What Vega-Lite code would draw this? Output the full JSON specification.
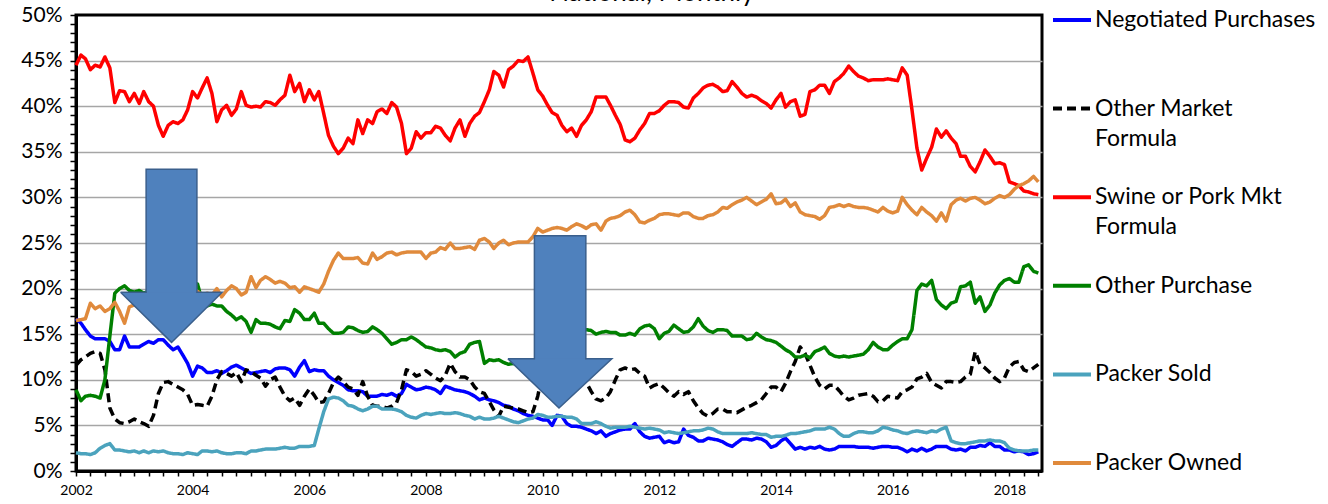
{
"$schema": "https://vega.github.io/schema/vega-lite/v6.json",
"width": 966, "height": 456,
"autosize": {"type": "none"},
"padding": {"left": 76, "top": 15, "right": 286, "bottom": 33},
"background": "white",
"config": {"font": "Lato", "view": {"stroke": "black", "strokeWidth": 3}},
"title": {"text": "National, Monthly", "fontSize": 26, "fontWeight": "normal", "font": "Lato", "color": "black", "anchor": "middle", "frame": "group", "dx": 93, "dy": 55, "offset": 4, "baseline": "alphabetic"},
"datasets": {
"m": [
{"d":"2002-01","n":16.7,"o":11.6,"s":44.5,"p":8.9,"ps":2.0,"po":16.5},
{"d":"2002-02","n":16.2,"o":12.2,"s":45.6,"p":7.7,"ps":1.9,"po":16.6},
{"d":"2002-03","n":15.5,"o":12.5,"s":45.2,"p":8.2,"ps":1.9,"po":16.7},
{"d":"2002-04","n":14.8,"o":12.9,"s":44.0,"p":8.3,"ps":1.8,"po":18.4},
{"d":"2002-05","n":14.5,"o":13.1,"s":44.5,"p":8.2,"ps":2.0,"po":17.8},
{"d":"2002-06","n":14.5,"o":12.9,"s":44.3,"p":8.0,"ps":2.5,"po":18.1},
{"d":"2002-07","n":14.5,"o":11.1,"s":45.4,"p":10.0,"ps":2.8,"po":17.5},
{"d":"2002-08","n":14.2,"o":6.9,"s":44.2,"p":14.8,"ps":3.0,"po":17.8},
{"d":"2002-09","n":13.3,"o":5.7,"s":40.4,"p":19.5,"ps":2.3,"po":18.5},
{"d":"2002-10","n":13.3,"o":5.3,"s":41.7,"p":20.0,"ps":2.3,"po":17.5},
{"d":"2002-11","n":14.8,"o":5.2,"s":41.6,"p":20.3,"ps":2.2,"po":16.2},
{"d":"2002-12","n":13.6,"o":5.4,"s":40.5,"p":19.8,"ps":2.1,"po":18.0},
{"d":"2003-01","n":13.6,"o":5.7,"s":41.4,"p":19.6,"ps":2.2,"po":18.2},
{"d":"2003-02","n":13.6,"o":5.4,"s":40.3,"p":19.8,"ps":2.0,"po":18.0},
{"d":"2003-03","n":13.9,"o":5.2,"s":41.6,"p":19.5,"ps":2.2,"po":18.6},
{"d":"2003-04","n":14.2,"o":4.9,"s":40.5,"p":19.7,"ps":2.0,"po":18.8},
{"d":"2003-05","n":14.0,"o":6.1,"s":40.0,"p":20.0,"ps":2.2,"po":19.2},
{"d":"2003-06","n":14.4,"o":8.5,"s":37.9,"p":19.6,"ps":2.1,"po":19.0},
{"d":"2003-07","n":14.4,"o":9.7,"s":36.7,"p":19.9,"ps":2.2,"po":19.4},
{"d":"2003-08","n":13.8,"o":9.8,"s":37.9,"p":20.2,"ps":2.0,"po":19.3},
{"d":"2003-09","n":13.3,"o":9.5,"s":38.3,"p":20.0,"ps":1.9,"po":19.6},
{"d":"2003-10","n":13.6,"o":9.2,"s":38.1,"p":19.8,"ps":1.9,"po":19.2},
{"d":"2003-11","n":12.7,"o":8.9,"s":38.5,"p":20.1,"ps":1.8,"po":19.5},
{"d":"2003-12","n":11.8,"o":8.4,"s":39.6,"p":20.4,"ps":2.0,"po":19.8},
{"d":"2004-01","n":10.4,"o":7.2,"s":41.6,"p":20.6,"ps":1.9,"po":19.4},
{"d":"2004-02","n":11.5,"o":7.3,"s":40.9,"p":20.5,"ps":1.8,"po":19.7},
{"d":"2004-03","n":11.3,"o":7.2,"s":42.0,"p":18.6,"ps":2.2,"po":19.3},
{"d":"2004-04","n":10.8,"o":7.1,"s":43.1,"p":18.1,"ps":2.2,"po":19.5},
{"d":"2004-05","n":10.8,"o":8.2,"s":41.4,"p":18.3,"ps":2.1,"po":19.3},
{"d":"2004-06","n":11.0,"o":10.0,"s":38.3,"p":18.1,"ps":2.2,"po":20.0},
{"d":"2004-07","n":10.7,"o":10.9,"s":39.6,"p":18.1,"ps":2.0,"po":19.1},
{"d":"2004-08","n":11.0,"o":10.7,"s":40.1,"p":17.5,"ps":1.9,"po":19.8},
{"d":"2004-09","n":11.4,"o":10.4,"s":39.0,"p":17.1,"ps":1.9,"po":20.3},
{"d":"2004-10","n":11.6,"o":10.8,"s":39.7,"p":16.6,"ps":2.0,"po":20.0},
{"d":"2004-11","n":11.3,"o":9.8,"s":41.6,"p":16.9,"ps":2.0,"po":19.3},
{"d":"2004-12","n":11.0,"o":11.1,"s":40.1,"p":16.4,"ps":1.9,"po":19.6},
{"d":"2005-01","n":10.7,"o":10.9,"s":39.9,"p":15.2,"ps":2.2,"po":21.3},
{"d":"2005-02","n":10.8,"o":10.5,"s":40.0,"p":16.6,"ps":2.2,"po":20.1},
{"d":"2005-03","n":10.9,"o":10.2,"s":39.9,"p":16.2,"ps":2.3,"po":20.9},
{"d":"2005-04","n":11.0,"o":9.3,"s":40.5,"p":16.2,"ps":2.4,"po":21.3},
{"d":"2005-05","n":10.8,"o":10.0,"s":40.4,"p":16.1,"ps":2.4,"po":21.0},
{"d":"2005-06","n":11.2,"o":10.3,"s":40.1,"p":15.8,"ps":2.4,"po":20.6},
{"d":"2005-07","n":11.3,"o":9.2,"s":40.7,"p":15.6,"ps":2.5,"po":20.8},
{"d":"2005-08","n":11.3,"o":8.2,"s":41.2,"p":16.5,"ps":2.6,"po":20.6},
{"d":"2005-09","n":11.1,"o":7.7,"s":43.4,"p":16.4,"ps":2.5,"po":20.1},
{"d":"2005-10","n":10.4,"o":8.0,"s":41.6,"p":17.7,"ps":2.5,"po":20.2},
{"d":"2005-11","n":11.4,"o":7.2,"s":42.5,"p":17.3,"ps":2.7,"po":19.6},
{"d":"2005-12","n":12.1,"o":8.2,"s":40.5,"p":16.6,"ps":2.7,"po":20.2},
{"d":"2006-01","n":10.9,"o":9.0,"s":41.8,"p":16.6,"ps":2.7,"po":20.0},
{"d":"2006-02","n":11.1,"o":8.3,"s":40.7,"p":17.3,"ps":2.8,"po":19.8},
{"d":"2006-03","n":11.0,"o":7.5,"s":41.6,"p":16.2,"ps":4.6,"po":19.6},
{"d":"2006-04","n":11.0,"o":7.6,"s":39.2,"p":16.2,"ps":6.5,"po":20.5},
{"d":"2006-05","n":10.4,"o":8.5,"s":36.8,"p":15.6,"ps":7.9,"po":21.9},
{"d":"2006-06","n":10.0,"o":9.7,"s":35.6,"p":15.1,"ps":8.1,"po":23.1},
{"d":"2006-07","n":9.7,"o":10.3,"s":34.8,"p":15.1,"ps":8.0,"po":23.9},
{"d":"2006-08","n":9.4,"o":9.8,"s":35.4,"p":15.2,"ps":7.7,"po":23.3},
{"d":"2006-09","n":8.9,"o":9.2,"s":36.5,"p":15.8,"ps":7.2,"po":23.3},
{"d":"2006-10","n":8.8,"o":9.0,"s":35.9,"p":15.7,"ps":7.1,"po":23.3},
{"d":"2006-11","n":8.8,"o":8.3,"s":38.5,"p":15.4,"ps":6.8,"po":23.4},
{"d":"2006-12","n":8.7,"o":9.8,"s":37.0,"p":15.2,"ps":6.6,"po":22.8},
{"d":"2007-01","n":8.2,"o":8.2,"s":38.5,"p":15.3,"ps":6.8,"po":22.7},
{"d":"2007-02","n":8.2,"o":7.2,"s":38.1,"p":15.8,"ps":7.1,"po":23.9},
{"d":"2007-03","n":8.2,"o":7.1,"s":39.4,"p":15.5,"ps":7.1,"po":23.2},
{"d":"2007-04","n":8.4,"o":7.1,"s":39.7,"p":15.1,"ps":6.8,"po":23.5},
{"d":"2007-05","n":8.3,"o":6.9,"s":39.2,"p":14.5,"ps":6.8,"po":23.9},
{"d":"2007-06","n":8.5,"o":7.1,"s":40.4,"p":13.9,"ps":6.8,"po":24.0},
{"d":"2007-07","n":8.2,"o":7.5,"s":39.9,"p":14.1,"ps":6.7,"po":23.7},
{"d":"2007-08","n":8.5,"o":8.9,"s":38.1,"p":14.4,"ps":6.5,"po":23.9},
{"d":"2007-09","n":9.5,"o":11.1,"s":34.8,"p":14.4,"ps":6.1,"po":24.0},
{"d":"2007-10","n":9.2,"o":10.9,"s":35.4,"p":14.7,"ps":5.9,"po":24.0},
{"d":"2007-11","n":8.9,"o":10.4,"s":37.2,"p":14.4,"ps":5.8,"po":24.0},
{"d":"2007-12","n":9.0,"o":10.6,"s":36.5,"p":14.0,"ps":6.1,"po":24.0},
{"d":"2008-01","n":9.2,"o":11.0,"s":37.1,"p":13.6,"ps":6.3,"po":23.3},
{"d":"2008-02","n":9.1,"o":10.6,"s":37.1,"p":13.5,"ps":6.2,"po":23.9},
{"d":"2008-03","n":8.9,"o":10.2,"s":37.8,"p":13.3,"ps":6.3,"po":24.0},
{"d":"2008-04","n":8.5,"o":9.9,"s":37.6,"p":13.2,"ps":6.4,"po":24.5},
{"d":"2008-05","n":9.3,"o":10.5,"s":36.8,"p":13.3,"ps":6.3,"po":24.3},
{"d":"2008-06","n":9.1,"o":11.8,"s":36.2,"p":13.1,"ps":6.3,"po":25.0},
{"d":"2008-07","n":8.9,"o":10.9,"s":37.6,"p":12.5,"ps":6.4,"po":24.4},
{"d":"2008-08","n":8.8,"o":10.3,"s":38.5,"p":12.9,"ps":6.3,"po":24.4},
{"d":"2008-09","n":8.7,"o":10.3,"s":36.7,"p":13.1,"ps":6.1,"po":24.5},
{"d":"2008-10","n":8.5,"o":10.0,"s":38.1,"p":13.9,"ps":6.0,"po":24.6},
{"d":"2008-11","n":8.2,"o":9.2,"s":38.9,"p":14.1,"ps":5.7,"po":24.3},
{"d":"2008-12","n":7.8,"o":8.7,"s":39.3,"p":14.2,"ps":5.9,"po":25.3},
{"d":"2009-01","n":8.0,"o":8.5,"s":40.5,"p":11.8,"ps":5.7,"po":25.5},
{"d":"2009-02","n":7.8,"o":7.6,"s":41.8,"p":12.2,"ps":5.7,"po":25.1},
{"d":"2009-03","n":7.7,"o":6.7,"s":43.8,"p":12.1,"ps":5.8,"po":24.4},
{"d":"2009-04","n":7.5,"o":6.0,"s":43.4,"p":12.2,"ps":6.0,"po":25.0},
{"d":"2009-05","n":7.2,"o":7.1,"s":42.1,"p":11.9,"ps":5.8,"po":25.3},
{"d":"2009-06","n":7.1,"o":7.0,"s":44.0,"p":11.7,"ps":5.6,"po":24.8},
{"d":"2009-07","n":6.8,"o":6.9,"s":44.4,"p":11.8,"ps":5.4,"po":25.0},
{"d":"2009-08","n":6.6,"o":6.8,"s":45.0,"p":11.6,"ps":5.3,"po":25.1},
{"d":"2009-09","n":6.3,"o":6.6,"s":44.9,"p":11.7,"ps":5.5,"po":25.1},
{"d":"2009-10","n":6.1,"o":6.4,"s":45.4,"p":11.5,"ps":5.7,"po":25.1},
{"d":"2009-11","n":6.0,"o":6.5,"s":43.6,"p":11.8,"ps":5.8,"po":25.7},
{"d":"2009-12","n":5.8,"o":8.2,"s":41.8,"p":12.5,"ps":6.2,"po":26.6},
{"d":"2010-01","n":5.6,"o":10.8,"s":41.1,"p":13.5,"ps":6.1,"po":26.2},
{"d":"2010-02","n":5.6,"o":11.5,"s":40.1,"p":14.5,"ps":5.9,"po":26.4},
{"d":"2010-03","n":5.0,"o":11.8,"s":39.3,"p":15.0,"ps":5.9,"po":26.6},
{"d":"2010-04","n":6.1,"o":11.2,"s":39.0,"p":15.2,"ps":6.0,"po":26.7},
{"d":"2010-05","n":6.0,"o":11.5,"s":37.9,"p":15.3,"ps":6.0,"po":26.6},
{"d":"2010-06","n":5.2,"o":11.8,"s":37.2,"p":15.2,"ps":5.9,"po":26.4},
{"d":"2010-07","n":4.9,"o":11.0,"s":37.6,"p":15.4,"ps":5.9,"po":26.8},
{"d":"2010-08","n":4.9,"o":11.4,"s":36.7,"p":15.3,"ps":5.7,"po":27.1},
{"d":"2010-09","n":4.8,"o":10.8,"s":37.9,"p":15.4,"ps":5.2,"po":26.9},
{"d":"2010-10","n":4.6,"o":9.7,"s":38.5,"p":15.5,"ps":5.2,"po":26.6},
{"d":"2010-11","n":4.4,"o":8.7,"s":39.4,"p":15.4,"ps":5.2,"po":27.0},
{"d":"2010-12","n":4.1,"o":7.9,"s":41.0,"p":15.0,"ps":5.4,"po":27.1},
{"d":"2011-01","n":4.4,"o":7.7,"s":41.0,"p":15.2,"ps":5.2,"po":26.4},
{"d":"2011-02","n":3.8,"o":8.0,"s":41.0,"p":15.3,"ps":4.9,"po":27.4},
{"d":"2011-03","n":4.1,"o":8.7,"s":40.1,"p":15.2,"ps":4.7,"po":27.7},
{"d":"2011-04","n":4.3,"o":10.0,"s":39.0,"p":15.2,"ps":4.8,"po":27.8},
{"d":"2011-05","n":4.5,"o":11.1,"s":38.0,"p":14.9,"ps":4.8,"po":28.0},
{"d":"2011-06","n":4.6,"o":11.3,"s":36.3,"p":14.9,"ps":4.8,"po":28.4},
{"d":"2011-07","n":4.6,"o":11.1,"s":36.1,"p":15.1,"ps":4.9,"po":28.6},
{"d":"2011-08","n":5.2,"o":11.2,"s":36.5,"p":14.9,"ps":4.8,"po":28.1},
{"d":"2011-09","n":4.3,"o":10.7,"s":37.4,"p":15.6,"ps":4.7,"po":27.3},
{"d":"2011-10","n":3.8,"o":10.4,"s":38.1,"p":15.9,"ps":4.6,"po":27.2},
{"d":"2011-11","n":3.6,"o":9.1,"s":39.2,"p":16.0,"ps":4.7,"po":27.5},
{"d":"2011-12","n":3.7,"o":9.4,"s":39.2,"p":15.6,"ps":4.6,"po":27.7},
{"d":"2012-01","n":3.8,"o":9.6,"s":39.5,"p":14.5,"ps":4.5,"po":28.1},
{"d":"2012-02","n":3.1,"o":9.1,"s":40.1,"p":15.1,"ps":4.2,"po":28.2},
{"d":"2012-03","n":3.3,"o":8.6,"s":40.5,"p":15.3,"ps":4.3,"po":28.2},
{"d":"2012-04","n":3.1,"o":8.2,"s":40.5,"p":16.0,"ps":4.2,"po":28.1},
{"d":"2012-05","n":3.2,"o":8.7,"s":40.4,"p":15.6,"ps":4.1,"po":28.0},
{"d":"2012-06","n":4.6,"o":8.4,"s":39.9,"p":15.2,"ps":4.2,"po":28.3},
{"d":"2012-07","n":3.9,"o":8.7,"s":39.8,"p":15.3,"ps":4.3,"po":28.3},
{"d":"2012-08","n":3.7,"o":7.7,"s":40.9,"p":15.8,"ps":4.4,"po":27.9},
{"d":"2012-09","n":3.3,"o":6.9,"s":41.4,"p":16.7,"ps":4.4,"po":27.7},
{"d":"2012-10","n":3.3,"o":6.3,"s":42.0,"p":15.9,"ps":4.5,"po":27.7},
{"d":"2012-11","n":3.6,"o":6.0,"s":42.3,"p":15.4,"ps":4.7,"po":28.0},
{"d":"2012-12","n":3.5,"o":6.3,"s":42.4,"p":15.2,"ps":4.6,"po":28.1},
{"d":"2013-01","n":3.4,"o":6.8,"s":42.1,"p":15.5,"ps":4.3,"po":28.4},
{"d":"2013-02","n":3.2,"o":6.8,"s":41.6,"p":15.5,"ps":4.1,"po":28.9},
{"d":"2013-03","n":2.9,"o":6.5,"s":41.7,"p":15.4,"ps":4.1,"po":28.8},
{"d":"2013-04","n":2.7,"o":6.5,"s":42.7,"p":14.8,"ps":4.1,"po":29.2},
{"d":"2013-05","n":3.1,"o":6.4,"s":42.1,"p":14.8,"ps":4.1,"po":29.5},
{"d":"2013-06","n":3.5,"o":6.7,"s":41.4,"p":14.8,"ps":4.1,"po":29.7},
{"d":"2013-07","n":3.5,"o":7.0,"s":41.0,"p":14.4,"ps":4.1,"po":30.0},
{"d":"2013-08","n":3.4,"o":7.2,"s":41.2,"p":14.5,"ps":4.2,"po":29.6},
{"d":"2013-09","n":3.6,"o":7.5,"s":41.0,"p":15.1,"ps":4.1,"po":29.2},
{"d":"2013-10","n":3.5,"o":7.8,"s":40.6,"p":14.7,"ps":4.0,"po":29.5},
{"d":"2013-11","n":3.2,"o":8.5,"s":40.3,"p":14.4,"ps":4.0,"po":29.8},
{"d":"2013-12","n":2.6,"o":9.2,"s":39.8,"p":14.3,"ps":3.7,"po":30.4},
{"d":"2014-01","n":2.8,"o":9.2,"s":40.7,"p":14.1,"ps":3.8,"po":29.3},
{"d":"2014-02","n":3.3,"o":8.7,"s":41.4,"p":13.7,"ps":3.8,"po":29.4},
{"d":"2014-03","n":3.6,"o":9.6,"s":39.9,"p":13.3,"ps":3.9,"po":29.8},
{"d":"2014-04","n":3.0,"o":10.9,"s":40.5,"p":13.0,"ps":4.1,"po":29.0},
{"d":"2014-05","n":2.4,"o":12.0,"s":40.7,"p":12.5,"ps":4.1,"po":29.4},
{"d":"2014-06","n":2.6,"o":13.6,"s":38.9,"p":12.5,"ps":4.2,"po":28.4},
{"d":"2014-07","n":2.4,"o":12.9,"s":39.1,"p":12.7,"ps":4.3,"po":28.1},
{"d":"2014-08","n":2.6,"o":11.6,"s":41.6,"p":12.4,"ps":4.4,"po":28.0},
{"d":"2014-09","n":2.5,"o":10.3,"s":41.8,"p":13.1,"ps":4.6,"po":27.9},
{"d":"2014-10","n":2.7,"o":9.4,"s":42.3,"p":13.3,"ps":4.6,"po":27.6},
{"d":"2014-11","n":2.4,"o":9.0,"s":42.3,"p":13.6,"ps":4.6,"po":28.0},
{"d":"2014-12","n":2.3,"o":9.4,"s":41.4,"p":12.9,"ps":4.8,"po":28.9},
{"d":"2015-01","n":2.4,"o":9.4,"s":42.7,"p":12.6,"ps":4.6,"po":29.0},
{"d":"2015-02","n":2.7,"o":8.8,"s":43.1,"p":12.5,"ps":4.1,"po":29.2},
{"d":"2015-03","n":2.7,"o":8.2,"s":43.6,"p":12.6,"ps":3.8,"po":29.0},
{"d":"2015-04","n":2.7,"o":7.8,"s":44.4,"p":12.5,"ps":3.8,"po":29.2},
{"d":"2015-05","n":2.7,"o":8.0,"s":43.8,"p":12.6,"ps":4.1,"po":29.0},
{"d":"2015-06","n":2.6,"o":8.3,"s":43.3,"p":12.7,"ps":4.3,"po":28.9},
{"d":"2015-07","n":2.6,"o":8.4,"s":43.1,"p":12.8,"ps":4.3,"po":28.9},
{"d":"2015-08","n":2.6,"o":8.5,"s":42.8,"p":13.3,"ps":4.2,"po":28.8},
{"d":"2015-09","n":2.5,"o":8.2,"s":42.9,"p":14.1,"ps":4.2,"po":28.6},
{"d":"2015-10","n":2.6,"o":7.6,"s":42.9,"p":13.6,"ps":4.4,"po":28.4},
{"d":"2015-11","n":2.7,"o":7.7,"s":42.9,"p":13.3,"ps":4.8,"po":28.9},
{"d":"2015-12","n":2.7,"o":8.2,"s":43.0,"p":13.3,"ps":4.7,"po":28.5},
{"d":"2016-01","n":2.6,"o":8.1,"s":42.9,"p":13.8,"ps":4.5,"po":28.3},
{"d":"2016-02","n":2.6,"o":8.0,"s":42.8,"p":14.2,"ps":4.4,"po":28.5},
{"d":"2016-03","n":2.4,"o":8.7,"s":44.2,"p":14.5,"ps":4.2,"po":30.0},
{"d":"2016-04","n":2.1,"o":8.9,"s":43.4,"p":14.5,"ps":4.1,"po":29.2},
{"d":"2016-05","n":2.4,"o":9.2,"s":39.6,"p":15.5,"ps":4.3,"po":28.6},
{"d":"2016-06","n":2.2,"o":10.1,"s":35.4,"p":19.8,"ps":4.4,"po":28.1},
{"d":"2016-07","n":2.5,"o":10.3,"s":33.0,"p":20.5,"ps":4.3,"po":28.9},
{"d":"2016-08","n":2.2,"o":10.7,"s":34.3,"p":20.3,"ps":4.2,"po":28.4},
{"d":"2016-09","n":2.4,"o":9.7,"s":35.5,"p":20.9,"ps":4.4,"po":28.0},
{"d":"2016-10","n":2.7,"o":9.4,"s":37.5,"p":18.8,"ps":4.3,"po":27.4},
{"d":"2016-11","n":2.7,"o":9.1,"s":36.6,"p":18.2,"ps":4.6,"po":28.3},
{"d":"2016-12","n":2.7,"o":9.8,"s":37.3,"p":17.8,"ps":4.8,"po":27.4},
{"d":"2017-01","n":2.4,"o":9.8,"s":36.5,"p":18.4,"ps":3.3,"po":29.2},
{"d":"2017-02","n":2.3,"o":9.7,"s":35.9,"p":18.6,"ps":3.1,"po":29.7},
{"d":"2017-03","n":2.4,"o":9.8,"s":34.5,"p":20.2,"ps":3.0,"po":29.9},
{"d":"2017-04","n":2.2,"o":10.3,"s":34.5,"p":20.3,"ps":3.0,"po":29.6},
{"d":"2017-05","n":2.6,"o":10.6,"s":33.4,"p":20.7,"ps":3.1,"po":29.9},
{"d":"2017-06","n":2.6,"o":13.1,"s":32.8,"p":18.4,"ps":3.2,"po":30.0},
{"d":"2017-07","n":2.8,"o":11.7,"s":33.9,"p":19.1,"ps":3.3,"po":29.7},
{"d":"2017-08","n":2.7,"o":11.3,"s":35.2,"p":17.5,"ps":3.3,"po":29.3},
{"d":"2017-09","n":3.1,"o":10.8,"s":34.5,"p":18.2,"ps":3.4,"po":29.5},
{"d":"2017-10","n":2.7,"o":10.2,"s":33.7,"p":19.5,"ps":3.3,"po":29.9},
{"d":"2017-11","n":2.7,"o":9.8,"s":33.8,"p":20.4,"ps":3.3,"po":30.2},
{"d":"2017-12","n":2.3,"o":10.2,"s":33.6,"p":20.9,"ps":3.1,"po":30.0},
{"d":"2018-01","n":2.3,"o":11.4,"s":31.7,"p":21.1,"ps":2.5,"po":30.3},
{"d":"2018-02","n":2.1,"o":11.9,"s":31.5,"p":20.7,"ps":2.3,"po":30.9},
{"d":"2018-03","n":2.2,"o":12.0,"s":31.3,"p":20.7,"ps":2.2,"po":31.3},
{"d":"2018-04","n":2.1,"o":11.1,"s":30.7,"p":22.4,"ps":2.2,"po":31.5},
{"d":"2018-05","n":1.8,"o":10.9,"s":30.6,"p":22.6,"ps":2.2,"po":31.8},
{"d":"2018-06","n":1.9,"o":11.3,"s":30.4,"p":21.9,"ps":2.3,"po":32.3},
{"d":"2018-07","n":2.1,"o":11.7,"s":30.3,"p":21.7,"ps":2.3,"po":31.7}
],
"shaft": [
{"a":1,"x":"2003-03-16","x2":"2004-01-28","y":33.1,"y2":19.2},
{"a":2,"x":"2009-11-10","x2":"2010-09-28","y":25.8,"y2":11.9}
],
"head": [
{"a":1,"x":"2002-10-07","y":19.6,"y2":19.6},
{"a":1,"x":"2003-08-22","y":14.1,"y2":19.6},
{"a":1,"x":"2004-07-04","y":19.6,"y2":19.6},
{"a":2,"x":"2009-05-28","y":12.3,"y2":12.3},
{"a":2,"x":"2010-04-13","y":6.9,"y2":12.3},
{"a":2,"x":"2011-03-10","y":12.3,"y2":12.3}
],
"outline": [
{"a":1,"i":1,"x":"2002-10-07","y":19.6},
{"a":1,"i":2,"x":"2003-03-16","y":19.6},
{"a":1,"i":3,"x":"2003-03-16","y":33.1},
{"a":1,"i":4,"x":"2004-01-28","y":33.1},
{"a":1,"i":5,"x":"2004-01-28","y":19.6},
{"a":1,"i":6,"x":"2004-07-04","y":19.6},
{"a":1,"i":7,"x":"2003-08-22","y":14.1},
{"a":1,"i":8,"x":"2002-10-07","y":19.6},
{"a":2,"i":1,"x":"2009-05-28","y":12.3},
{"a":2,"i":2,"x":"2009-11-10","y":12.3},
{"a":2,"i":3,"x":"2009-11-10","y":25.8},
{"a":2,"i":4,"x":"2010-09-28","y":25.8},
{"a":2,"i":5,"x":"2010-09-28","y":12.3},
{"a":2,"i":6,"x":"2011-03-10","y":12.3},
{"a":2,"i":7,"x":"2010-04-13","y":6.9},
{"a":2,"i":8,"x":"2009-05-28","y":12.3}
]
},
"encoding": {
"x": {"type": "temporal",
 "scale": {"type": "utc", "nice": false, "domain": [{"year": 2002, "month": 1, "date": 1, "utc": true}, {"year": 2018, "month": 7, "date": 24, "utc": true}]},
 "axis": {"title": null, "tickCount": {"interval": "month", "step": 3},
  "labelExpr": "utcmonth(datum.value)==0 && utcyear(datum.value)%2==0 ? utcFormat(datum.value,'%Y') : ''",
  "labelFlush": false, "labelOverlap": false, "labelBound": false, "labelFontSize": 14, "labelFont": "Lato", "labelColor": "black", "labelPadding": 7,
  "tickSize": 5, "tickColor": "black", "tickWidth": 1.5, "domainColor": "black", "domainWidth": 3, "grid": false}},
"y": {"type": "quantitative",
 "scale": {"domain": [0, 50], "nice": false},
 "axis": {"title": null,
  "values": [0,1,2,3,4,5,6,7,8,9,10,11,12,13,14,15,16,17,18,19,20,21,22,23,24,25,26,27,28,29,30,31,32,33,34,35,36,37,38,39,40,41,42,43,44,45,46,47,48,49,50],
  "labelExpr": "datum.value % 5 === 0 ? datum.value + '%' : ''",
  "labelOverlap": false, "labelFlush": false, "labelBound": false, "labelFontSize": 21, "labelFont": "Lato", "labelColor": "black", "labelPadding": 8,
  "grid": true, "gridColor": "#A6A6A6", "gridWidth": 1.5,
  "gridOpacity": {"condition": {"test": "datum.value % 5 === 0 && datum.value > 0 && datum.value < 50", "value": 1}, "value": 0},
  "tickSize": 6, "tickColor": "black", "tickWidth": 1.5, "domainColor": "black", "domainWidth": 3}}
},
"layer": [
{
"data": {"name": "m"},
"transform": [{"fold": ["n","o","s","p","ps","po"], "as": ["k","v"]}],
"mark": {"type": "line", "strokeWidth": 3.5, "strokeJoin": "round"},
"encoding": {
"x": {"field": "d", "type": "temporal"},
"y": {"field": "v", "type": "quantitative"},
"color": {"field": "k", "type": "nominal",
 "scale": {"domain": ["n","o","s","p","ps","po"], "range": ["#0000FF","#000000","#FF0000","#008000","#4BA3BD","#E08A3C"]},
 "legend": {"title": null, "orient": "none", "legendX": 975, "legendY": -39, "symbolType": "stroke", "symbolSize": 1444, "symbolStrokeWidth": 4,
  "labelFontSize": 23, "labelFont": "Lato", "labelColor": "black", "labelLimit": 400, "labelOffset": 2, "clipHeight": 88, "rowPadding": 0.6, "labelBaseline": "top",
  "labelExpr": "datum.value=='n' ? 'Negotiated Purchases' : datum.value=='o' ? ['Other Market','Formula'] : datum.value=='s' ? ['Swine or Pork Mkt','Formula'] : datum.value=='p' ? 'Other Purchase' : datum.value=='ps' ? 'Packer Sold' : 'Packer Owned'",
  "encode": {"labels": {"update": {"dy": {"value": -11}, "lineHeight": {"value": 30}}}}}},
"strokeDash": {"field": "k", "type": "nominal",
 "scale": {"domain": ["n","o","s","p","ps","po"], "range": [[1,0],[9,5],[1,0],[1,0],[1,0],[1,0]]},
 "legend": {"title": null, "orient": "none", "legendX": 975, "legendY": -39, "symbolType": "stroke", "symbolSize": 1444, "symbolStrokeWidth": 4,
  "labelFontSize": 23, "labelFont": "Lato", "labelColor": "black", "labelLimit": 400, "labelOffset": 2, "clipHeight": 88, "rowPadding": 0.6, "labelBaseline": "top",
  "labelExpr": "datum.value=='n' ? 'Negotiated Purchases' : datum.value=='o' ? ['Other Market','Formula'] : datum.value=='s' ? ['Swine or Pork Mkt','Formula'] : datum.value=='p' ? 'Other Purchase' : datum.value=='ps' ? 'Packer Sold' : 'Packer Owned'",
  "encode": {"labels": {"update": {"dy": {"value": -11}, "lineHeight": {"value": 30}}}}}}
}
},
{
"data": {"name": "shaft"},
"mark": {"type": "rect", "fill": "#4F81BD"},
"encoding": {
"x": {"field": "x", "type": "temporal"},
"x2": {"field": "x2"},
"y": {"field": "y", "type": "quantitative"},
"y2": {"field": "y2"}
}
},
{
"data": {"name": "head"},
"mark": {"type": "area", "fill": "#4F81BD", "opacity": 1},
"encoding": {
"x": {"field": "x", "type": "temporal"},
"y": {"field": "y", "type": "quantitative"},
"y2": {"field": "y2"},
"detail": {"field": "a", "type": "nominal"}
}
},
{
"data": {"name": "outline"},
"mark": {"type": "line", "stroke": "#3A5F8C", "strokeWidth": 1.5},
"encoding": {
"x": {"field": "x", "type": "temporal"},
"y": {"field": "y", "type": "quantitative"},
"order": {"field": "i", "type": "quantitative"},
"detail": {"field": "a", "type": "nominal"}
}
}
]
}
